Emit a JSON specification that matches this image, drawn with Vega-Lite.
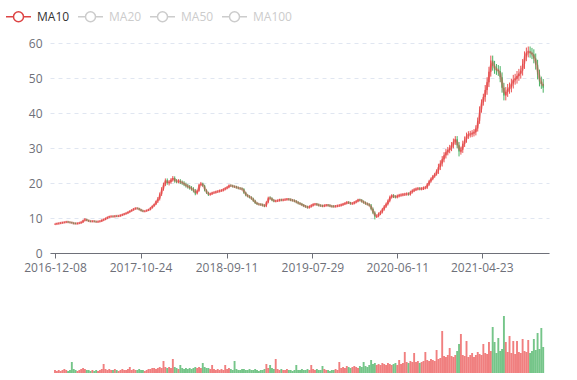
{
"$schema":"https://vega.github.io/schema/vega-lite/v6.json",
"padding":{"left":5,"top":3,"right":5,"bottom":5},
"config":{"font":"Open Sans","view":{"stroke":null}},
"spacing":30,
"resolve":{"scale":{"x":"independent","y":"independent","color":"independent"}},
"data":{"values":[
{"d":"2016-12-08","o":8.2,"c":8.3,"h":8.5,"l":8.0,"v":3},
{"d":"2016-12-15","o":8.3,"c":8.4,"h":8.6,"l":8.1,"v":2},
{"d":"2016-12-22","o":8.4,"c":8.5,"h":8.7,"l":8.2,"v":3},
{"d":"2016-12-29","o":8.5,"c":8.6,"h":8.8,"l":8.3,"v":2},
{"d":"2017-01-05","o":8.6,"c":8.7,"h":8.9,"l":8.4,"v":3},
{"d":"2017-01-12","o":8.7,"c":8.8,"h":9.0,"l":8.5,"v":4},
{"d":"2017-01-19","o":8.8,"c":8.9,"h":9.1,"l":8.6,"v":3},
{"d":"2017-01-26","o":8.9,"c":8.8,"h":9.1,"l":8.6,"v":2},
{"d":"2017-02-02","o":8.8,"c":8.7,"h":9.0,"l":8.5,"v":3},
{"d":"2017-02-09","o":8.7,"c":8.6,"h":8.9,"l":8.4,"v":11},
{"d":"2017-02-16","o":8.6,"c":8.4,"h":8.8,"l":8.2,"v":4},
{"d":"2017-02-23","o":8.5,"c":8.4,"h":8.7,"l":8.2,"v":3},
{"d":"2017-03-02","o":8.4,"c":8.5,"h":8.7,"l":8.2,"v":2},
{"d":"2017-03-09","o":8.5,"c":8.6,"h":8.8,"l":8.3,"v":3},
{"d":"2017-03-16","o":8.6,"c":8.8,"h":9.0,"l":8.4,"v":4},
{"d":"2017-03-23","o":8.8,"c":9.3,"h":9.5,"l":8.6,"v":5},
{"d":"2017-03-30","o":9.3,"c":9.6,"h":10.0,"l":9.1,"v":4},
{"d":"2017-04-06","o":9.6,"c":9.3,"h":9.8,"l":9.1,"v":3},
{"d":"2017-04-13","o":9.3,"c":9.1,"h":9.5,"l":8.9,"v":3},
{"d":"2017-04-20","o":9.1,"c":9.0,"h":9.3,"l":8.8,"v":2},
{"d":"2017-04-27","o":9.0,"c":9.1,"h":9.3,"l":8.8,"v":3},
{"d":"2017-05-04","o":9.1,"c":9.0,"h":9.3,"l":8.8,"v":2},
{"d":"2017-05-11","o":9.0,"c":8.9,"h":9.2,"l":8.7,"v":3},
{"d":"2017-05-18","o":8.9,"c":9.0,"h":9.2,"l":8.7,"v":2},
{"d":"2017-05-25","o":9.0,"c":9.1,"h":9.3,"l":8.8,"v":3},
{"d":"2017-06-01","o":9.1,"c":9.4,"h":9.6,"l":8.9,"v":4},
{"d":"2017-06-08","o":9.4,"c":9.6,"h":9.8,"l":9.2,"v":9},
{"d":"2017-06-15","o":9.6,"c":9.9,"h":10.1,"l":9.4,"v":4},
{"d":"2017-06-22","o":9.9,"c":10.2,"h":10.4,"l":9.7,"v":3},
{"d":"2017-06-29","o":10.2,"c":10.4,"h":10.6,"l":10.0,"v":4},
{"d":"2017-07-06","o":10.4,"c":10.5,"h":10.7,"l":10.2,"v":3},
{"d":"2017-07-13","o":10.5,"c":10.4,"h":10.7,"l":10.2,"v":3},
{"d":"2017-07-20","o":10.4,"c":10.6,"h":10.8,"l":10.2,"v":4},
{"d":"2017-07-27","o":10.6,"c":10.5,"h":10.8,"l":10.3,"v":3},
{"d":"2017-08-03","o":10.5,"c":10.6,"h":10.8,"l":10.3,"v":2},
{"d":"2017-08-10","o":10.6,"c":10.8,"h":11.0,"l":10.4,"v":3},
{"d":"2017-08-17","o":10.8,"c":11.0,"h":11.2,"l":10.6,"v":4},
{"d":"2017-08-24","o":11.0,"c":11.2,"h":11.4,"l":10.8,"v":3},
{"d":"2017-08-31","o":11.2,"c":11.4,"h":11.6,"l":11.0,"v":3},
{"d":"2017-09-07","o":11.4,"c":11.7,"h":11.9,"l":11.2,"v":4},
{"d":"2017-09-14","o":11.7,"c":12.0,"h":12.2,"l":11.5,"v":6},
{"d":"2017-09-21","o":12.0,"c":12.3,"h":12.5,"l":11.8,"v":3},
{"d":"2017-09-28","o":12.3,"c":12.6,"h":12.8,"l":12.1,"v":4},
{"d":"2017-10-05","o":12.6,"c":12.8,"h":13.0,"l":12.4,"v":3},
{"d":"2017-10-12","o":12.8,"c":12.7,"h":13.0,"l":12.5,"v":3},
{"d":"2017-10-19","o":12.7,"c":12.4,"h":12.9,"l":12.2,"v":4},
{"d":"2017-10-26","o":12.4,"c":12.1,"h":12.6,"l":11.9,"v":3},
{"d":"2017-11-02","o":12.1,"c":11.9,"h":12.3,"l":11.7,"v":3},
{"d":"2017-11-09","o":11.9,"c":12.0,"h":12.2,"l":11.7,"v":2},
{"d":"2017-11-16","o":12.0,"c":12.2,"h":12.4,"l":11.8,"v":3},
{"d":"2017-11-23","o":12.2,"c":12.4,"h":12.6,"l":12.0,"v":4},
{"d":"2017-11-30","o":12.4,"c":12.9,"h":13.1,"l":12.2,"v":4},
{"d":"2017-12-07","o":12.9,"c":13.4,"h":13.6,"l":12.7,"v":5},
{"d":"2017-12-14","o":13.4,"c":13.9,"h":14.1,"l":13.2,"v":5},
{"d":"2017-12-21","o":13.9,"c":14.8,"h":15.0,"l":13.7,"v":4},
{"d":"2017-12-28","o":14.8,"c":15.5,"h":16.0,"l":14.3,"v":5},
{"d":"2018-01-04","o":15.5,"c":16.8,"h":17.3,"l":15.0,"v":6},
{"d":"2018-01-11","o":16.8,"c":18.3,"h":18.8,"l":16.3,"v":5},
{"d":"2018-01-18","o":18.3,"c":19.6,"h":20.1,"l":17.8,"v":12},
{"d":"2018-01-25","o":19.6,"c":20.8,"h":21.3,"l":19.1,"v":6},
{"d":"2018-02-01","o":20.8,"c":20.0,"h":21.3,"l":19.5,"v":5},
{"d":"2018-02-08","o":20.0,"c":20.3,"h":20.8,"l":19.3,"v":6},
{"d":"2018-02-15","o":20.3,"c":20.9,"h":21.4,"l":19.8,"v":5},
{"d":"2018-02-22","o":20.9,"c":21.4,"h":22.0,"l":20.4,"v":14},
{"d":"2018-03-01","o":21.4,"c":20.6,"h":21.9,"l":20.1,"v":6},
{"d":"2018-03-08","o":20.6,"c":20.4,"h":21.1,"l":19.9,"v":5},
{"d":"2018-03-15","o":20.4,"c":20.6,"h":21.1,"l":19.9,"v":4},
{"d":"2018-03-22","o":20.6,"c":20.2,"h":21.1,"l":19.7,"v":8},
{"d":"2018-03-29","o":20.2,"c":20.0,"h":20.7,"l":19.5,"v":5},
{"d":"2018-04-05","o":20.0,"c":19.6,"h":20.5,"l":19.1,"v":4},
{"d":"2018-04-12","o":19.6,"c":19.2,"h":20.1,"l":18.7,"v":5},
{"d":"2018-04-19","o":19.2,"c":18.9,"h":19.7,"l":18.4,"v":4},
{"d":"2018-04-26","o":18.9,"c":18.6,"h":19.4,"l":18.1,"v":5},
{"d":"2018-05-03","o":18.6,"c":18.3,"h":19.1,"l":17.8,"v":4},
{"d":"2018-05-10","o":18.3,"c":17.8,"h":18.8,"l":17.3,"v":5},
{"d":"2018-05-17","o":17.8,"c":17.0,"h":18.3,"l":16.5,"v":6},
{"d":"2018-05-24","o":17.0,"c":17.8,"h":18.1,"l":16.7,"v":5},
{"d":"2018-05-31","o":17.8,"c":19.5,"h":19.8,"l":17.5,"v":6},
{"d":"2018-06-07","o":19.5,"c":19.8,"h":20.3,"l":19.2,"v":5},
{"d":"2018-06-14","o":19.8,"c":19.2,"h":20.1,"l":18.9,"v":10},
{"d":"2018-06-21","o":19.2,"c":17.9,"h":19.5,"l":17.6,"v":6},
{"d":"2018-06-28","o":17.9,"c":17.2,"h":18.2,"l":16.9,"v":5},
{"d":"2018-07-05","o":17.2,"c":16.7,"h":17.5,"l":16.3,"v":5},
{"d":"2018-07-12","o":16.7,"c":16.9,"h":17.2,"l":16.4,"v":4},
{"d":"2018-07-19","o":16.9,"c":17.2,"h":17.5,"l":16.6,"v":8},
{"d":"2018-07-26","o":17.2,"c":17.3,"h":17.6,"l":16.9,"v":4},
{"d":"2018-08-02","o":17.3,"c":17.5,"h":17.8,"l":17.0,"v":3},
{"d":"2018-08-09","o":17.5,"c":17.6,"h":17.9,"l":17.2,"v":4},
{"d":"2018-08-16","o":17.6,"c":17.8,"h":18.1,"l":17.3,"v":3},
{"d":"2018-08-23","o":17.8,"c":17.9,"h":18.2,"l":17.5,"v":4},
{"d":"2018-08-30","o":17.9,"c":18.2,"h":18.5,"l":17.6,"v":3},
{"d":"2018-09-06","o":18.2,"c":18.5,"h":18.8,"l":17.9,"v":8},
{"d":"2018-09-13","o":18.5,"c":18.8,"h":19.1,"l":18.2,"v":4},
{"d":"2018-09-20","o":18.8,"c":19.3,"h":19.6,"l":18.5,"v":5},
{"d":"2018-09-27","o":19.3,"c":19.2,"h":19.6,"l":18.9,"v":4},
{"d":"2018-10-04","o":19.2,"c":19.0,"h":19.5,"l":18.7,"v":3},
{"d":"2018-10-11","o":19.0,"c":18.9,"h":19.3,"l":18.6,"v":12},
{"d":"2018-10-18","o":18.9,"c":18.7,"h":19.2,"l":18.4,"v":4},
{"d":"2018-10-25","o":18.7,"c":18.5,"h":19.0,"l":18.2,"v":3},
{"d":"2018-11-01","o":18.5,"c":18.4,"h":18.8,"l":18.1,"v":3},
{"d":"2018-11-08","o":18.4,"c":18.2,"h":18.7,"l":17.9,"v":4},
{"d":"2018-11-15","o":18.2,"c":17.2,"h":18.5,"l":16.9,"v":4},
{"d":"2018-11-22","o":17.2,"c":16.5,"h":17.5,"l":16.2,"v":3},
{"d":"2018-11-29","o":16.5,"c":16.2,"h":16.8,"l":15.9,"v":3},
{"d":"2018-12-06","o":16.2,"c":15.9,"h":16.5,"l":15.6,"v":4},
{"d":"2018-12-13","o":15.9,"c":15.5,"h":16.2,"l":15.2,"v":3},
{"d":"2018-12-20","o":15.5,"c":14.9,"h":15.8,"l":14.6,"v":3},
{"d":"2018-12-27","o":14.9,"c":14.3,"h":15.2,"l":14.0,"v":4},
{"d":"2019-01-03","o":14.3,"c":14.0,"h":14.6,"l":13.7,"v":3},
{"d":"2019-01-10","o":14.0,"c":13.9,"h":14.3,"l":13.6,"v":2},
{"d":"2019-01-17","o":13.9,"c":13.8,"h":14.2,"l":13.5,"v":3},
{"d":"2019-01-24","o":13.8,"c":13.6,"h":14.1,"l":13.3,"v":3},
{"d":"2019-01-31","o":13.6,"c":13.4,"h":13.9,"l":13.1,"v":4},
{"d":"2019-02-07","o":13.4,"c":14.5,"h":14.8,"l":13.1,"v":9},
{"d":"2019-02-14","o":14.5,"c":15.8,"h":16.1,"l":14.2,"v":5},
{"d":"2019-02-21","o":15.8,"c":15.6,"h":16.2,"l":15.3,"v":8},
{"d":"2019-02-28","o":15.6,"c":15.1,"h":15.9,"l":14.8,"v":5},
{"d":"2019-03-07","o":15.1,"c":14.8,"h":15.4,"l":14.5,"v":4},
{"d":"2019-03-14","o":14.8,"c":14.9,"h":15.2,"l":14.5,"v":14},
{"d":"2019-03-21","o":14.9,"c":15.0,"h":15.3,"l":14.6,"v":4},
{"d":"2019-03-28","o":15.0,"c":15.2,"h":15.5,"l":14.7,"v":3},
{"d":"2019-04-04","o":15.2,"c":15.1,"h":15.5,"l":14.8,"v":4},
{"d":"2019-04-11","o":15.1,"c":15.2,"h":15.5,"l":14.8,"v":3},
{"d":"2019-04-18","o":15.2,"c":15.3,"h":15.6,"l":14.9,"v":3},
{"d":"2019-04-25","o":15.3,"c":15.4,"h":15.7,"l":15.0,"v":4},
{"d":"2019-05-02","o":15.4,"c":15.3,"h":15.7,"l":15.0,"v":3},
{"d":"2019-05-09","o":15.3,"c":15.1,"h":15.6,"l":14.8,"v":3},
{"d":"2019-05-16","o":15.1,"c":15.0,"h":15.4,"l":14.7,"v":2},
{"d":"2019-05-23","o":15.0,"c":14.8,"h":15.3,"l":14.5,"v":3},
{"d":"2019-05-30","o":14.8,"c":14.5,"h":15.1,"l":14.2,"v":8},
{"d":"2019-06-06","o":14.5,"c":14.2,"h":14.8,"l":13.9,"v":3},
{"d":"2019-06-13","o":14.2,"c":14.0,"h":14.5,"l":13.7,"v":3},
{"d":"2019-06-20","o":14.0,"c":13.7,"h":14.3,"l":13.4,"v":4},
{"d":"2019-06-27","o":13.7,"c":13.4,"h":14.0,"l":13.1,"v":3},
{"d":"2019-07-04","o":13.4,"c":13.2,"h":13.7,"l":12.9,"v":3},
{"d":"2019-07-11","o":13.2,"c":13.0,"h":13.5,"l":12.7,"v":4},
{"d":"2019-07-18","o":13.0,"c":13.3,"h":13.6,"l":12.7,"v":3},
{"d":"2019-07-25","o":13.3,"c":13.6,"h":13.9,"l":13.0,"v":8},
{"d":"2019-08-01","o":13.6,"c":13.9,"h":14.2,"l":13.3,"v":4},
{"d":"2019-08-08","o":13.9,"c":14.0,"h":14.3,"l":13.6,"v":3},
{"d":"2019-08-15","o":14.0,"c":13.8,"h":14.3,"l":13.5,"v":4},
{"d":"2019-08-22","o":13.8,"c":13.6,"h":14.1,"l":13.3,"v":3},
{"d":"2019-08-29","o":13.6,"c":13.5,"h":13.9,"l":13.2,"v":3},
{"d":"2019-09-05","o":13.5,"c":13.4,"h":13.8,"l":13.1,"v":7},
{"d":"2019-09-12","o":13.4,"c":13.6,"h":13.9,"l":13.1,"v":4},
{"d":"2019-09-19","o":13.6,"c":13.7,"h":14.0,"l":13.3,"v":3},
{"d":"2019-09-26","o":13.7,"c":13.6,"h":14.0,"l":13.3,"v":3},
{"d":"2019-10-03","o":13.6,"c":13.4,"h":13.9,"l":13.1,"v":2},
{"d":"2019-10-10","o":13.4,"c":13.3,"h":13.7,"l":13.0,"v":3},
{"d":"2019-10-17","o":13.4,"c":13.3,"h":13.7,"l":13.0,"v":3},
{"d":"2019-10-24","o":13.3,"c":13.4,"h":13.7,"l":13.0,"v":4},
{"d":"2019-10-31","o":13.4,"c":13.5,"h":13.8,"l":13.1,"v":3},
{"d":"2019-11-07","o":13.5,"c":13.6,"h":13.9,"l":13.2,"v":11},
{"d":"2019-11-14","o":13.6,"c":13.8,"h":14.1,"l":13.3,"v":5},
{"d":"2019-11-21","o":13.8,"c":14.0,"h":14.3,"l":13.5,"v":6},
{"d":"2019-11-28","o":14.0,"c":14.2,"h":14.5,"l":13.7,"v":5},
{"d":"2019-12-05","o":14.2,"c":14.5,"h":14.8,"l":13.9,"v":7},
{"d":"2019-12-12","o":14.5,"c":14.3,"h":14.8,"l":14.0,"v":6},
{"d":"2019-12-19","o":14.3,"c":14.1,"h":14.6,"l":13.8,"v":5},
{"d":"2019-12-26","o":14.1,"c":14.2,"h":14.5,"l":13.8,"v":6},
{"d":"2020-01-02","o":14.2,"c":14.5,"h":14.8,"l":13.9,"v":7},
{"d":"2020-01-09","o":14.5,"c":14.8,"h":15.1,"l":14.2,"v":6},
{"d":"2020-01-16","o":14.8,"c":15.2,"h":15.5,"l":14.5,"v":5},
{"d":"2020-01-23","o":15.2,"c":15.1,"h":15.5,"l":14.8,"v":7},
{"d":"2020-01-30","o":15.1,"c":14.7,"h":15.4,"l":14.4,"v":6},
{"d":"2020-02-06","o":14.7,"c":14.4,"h":15.0,"l":14.1,"v":11},
{"d":"2020-02-13","o":14.4,"c":14.1,"h":14.7,"l":13.8,"v":7},
{"d":"2020-02-20","o":14.1,"c":13.9,"h":14.4,"l":13.6,"v":6},
{"d":"2020-02-27","o":13.9,"c":13.6,"h":14.2,"l":13.3,"v":8},
{"d":"2020-03-05","o":13.6,"c":12.6,"h":14.0,"l":12.2,"v":13},
{"d":"2020-03-12","o":12.6,"c":11.5,"h":13.0,"l":11.1,"v":9},
{"d":"2020-03-19","o":11.5,"c":10.4,"h":11.9,"l":9.6,"v":10},
{"d":"2020-03-26","o":10.4,"c":10.6,"h":11.0,"l":10.0,"v":8},
{"d":"2020-04-02","o":10.6,"c":11.2,"h":11.6,"l":10.2,"v":9},
{"d":"2020-04-09","o":11.2,"c":11.7,"h":12.1,"l":10.8,"v":8},
{"d":"2020-04-16","o":11.7,"c":12.5,"h":12.9,"l":11.3,"v":10},
{"d":"2020-04-23","o":12.5,"c":13.3,"h":13.7,"l":12.1,"v":9},
{"d":"2020-04-30","o":13.3,"c":14.0,"h":14.4,"l":12.9,"v":8},
{"d":"2020-05-07","o":14.0,"c":14.9,"h":15.3,"l":13.6,"v":10},
{"d":"2020-05-14","o":14.9,"c":16.0,"h":16.4,"l":14.5,"v":9},
{"d":"2020-05-21","o":16.0,"c":16.4,"h":16.8,"l":15.6,"v":8},
{"d":"2020-05-28","o":16.4,"c":16.1,"h":16.8,"l":15.7,"v":9},
{"d":"2020-06-04","o":16.1,"c":16.0,"h":16.5,"l":15.6,"v":10},
{"d":"2020-06-11","o":16.0,"c":16.3,"h":16.7,"l":15.6,"v":8},
{"d":"2020-06-18","o":16.3,"c":16.5,"h":16.9,"l":15.9,"v":13},
{"d":"2020-06-25","o":16.5,"c":16.6,"h":17.0,"l":16.1,"v":9},
{"d":"2020-07-02","o":16.6,"c":16.7,"h":17.1,"l":16.2,"v":10},
{"d":"2020-07-09","o":16.7,"c":16.8,"h":17.2,"l":16.3,"v":21},
{"d":"2020-07-16","o":16.8,"c":16.9,"h":17.3,"l":16.4,"v":11},
{"d":"2020-07-23","o":16.9,"c":16.8,"h":17.3,"l":16.4,"v":10},
{"d":"2020-07-30","o":16.8,"c":17.4,"h":17.8,"l":16.4,"v":12},
{"d":"2020-08-06","o":17.4,"c":17.8,"h":18.2,"l":17.0,"v":11},
{"d":"2020-08-13","o":17.8,"c":18.1,"h":18.5,"l":17.4,"v":20},
{"d":"2020-08-20","o":18.1,"c":18.3,"h":18.7,"l":17.7,"v":11},
{"d":"2020-08-27","o":18.3,"c":18.4,"h":18.8,"l":17.9,"v":12},
{"d":"2020-09-03","o":18.4,"c":18.3,"h":18.8,"l":17.9,"v":10},
{"d":"2020-09-10","o":18.3,"c":18.4,"h":18.8,"l":17.9,"v":11},
{"d":"2020-09-17","o":18.4,"c":18.6,"h":19.0,"l":18.0,"v":12},
{"d":"2020-09-24","o":18.6,"c":18.7,"h":19.1,"l":18.2,"v":21},
{"d":"2020-10-01","o":18.7,"c":19.6,"h":20.0,"l":18.3,"v":13},
{"d":"2020-10-08","o":19.6,"c":20.5,"h":20.9,"l":19.2,"v":12},
{"d":"2020-10-15","o":20.5,"c":21.2,"h":21.6,"l":20.1,"v":14},
{"d":"2020-10-22","o":21.2,"c":21.9,"h":22.3,"l":20.8,"v":13},
{"d":"2020-10-29","o":21.9,"c":22.5,"h":22.9,"l":21.5,"v":12},
{"d":"2020-11-05","o":22.5,"c":23.5,"h":23.9,"l":22.1,"v":23},
{"d":"2020-11-12","o":23.5,"c":24.6,"h":25.5,"l":22.6,"v":14},
{"d":"2020-11-19","o":24.6,"c":25.6,"h":26.5,"l":23.7,"v":15},
{"d":"2020-11-26","o":25.6,"c":26.8,"h":27.7,"l":24.7,"v":42},
{"d":"2020-12-03","o":26.8,"c":27.9,"h":28.8,"l":25.9,"v":17},
{"d":"2020-12-10","o":27.9,"c":28.8,"h":29.7,"l":27.0,"v":16},
{"d":"2020-12-17","o":28.8,"c":29.4,"h":30.3,"l":27.9,"v":18},
{"d":"2020-12-24","o":29.4,"c":30.0,"h":30.9,"l":28.5,"v":25},
{"d":"2020-12-31","o":30.0,"c":30.8,"h":31.7,"l":29.1,"v":17},
{"d":"2021-01-07","o":30.8,"c":31.8,"h":32.7,"l":29.9,"v":16},
{"d":"2021-01-14","o":31.8,"c":32.5,"h":33.4,"l":30.9,"v":18},
{"d":"2021-01-21","o":32.5,"c":30.8,"h":33.4,"l":29.9,"v":22},
{"d":"2021-01-28","o":30.8,"c":29.0,"h":31.7,"l":27.6,"v":29},
{"d":"2021-02-04","o":29.0,"c":29.5,"h":30.4,"l":28.1,"v":39},
{"d":"2021-02-11","o":29.5,"c":31.2,"h":32.1,"l":28.6,"v":18},
{"d":"2021-02-18","o":31.2,"c":32.4,"h":33.3,"l":30.3,"v":17},
{"d":"2021-02-25","o":32.4,"c":33.5,"h":34.4,"l":31.5,"v":32},
{"d":"2021-03-04","o":33.5,"c":33.9,"h":34.8,"l":32.6,"v":16},
{"d":"2021-03-11","o":33.9,"c":34.0,"h":34.9,"l":33.0,"v":18},
{"d":"2021-03-18","o":34.0,"c":34.2,"h":35.1,"l":33.1,"v":20},
{"d":"2021-03-25","o":34.2,"c":34.5,"h":35.4,"l":33.3,"v":16},
{"d":"2021-04-01","o":34.5,"c":35.6,"h":36.5,"l":33.6,"v":18},
{"d":"2021-04-08","o":35.6,"c":37.8,"h":38.7,"l":34.7,"v":21},
{"d":"2021-04-15","o":37.8,"c":41.0,"h":41.9,"l":36.9,"v":19},
{"d":"2021-04-22","o":41.0,"c":43.0,"h":43.9,"l":40.1,"v":18},
{"d":"2021-04-29","o":43.0,"c":44.6,"h":45.5,"l":42.1,"v":29},
{"d":"2021-05-06","o":44.6,"c":46.6,"h":48.0,"l":43.2,"v":20},
{"d":"2021-05-13","o":46.6,"c":48.8,"h":50.2,"l":45.2,"v":19},
{"d":"2021-05-20","o":48.8,"c":51.8,"h":53.2,"l":47.4,"v":31},
{"d":"2021-05-27","o":51.8,"c":55.0,"h":56.4,"l":50.4,"v":22},
{"d":"2021-06-03","o":55.0,"c":53.5,"h":56.4,"l":52.1,"v":46},
{"d":"2021-06-10","o":53.5,"c":52.6,"h":54.9,"l":51.2,"v":31},
{"d":"2021-06-17","o":52.6,"c":52.3,"h":54.0,"l":50.9,"v":20},
{"d":"2021-06-24","o":52.3,"c":52.0,"h":53.7,"l":50.6,"v":35},
{"d":"2021-07-01","o":52.0,"c":50.2,"h":53.4,"l":48.8,"v":22},
{"d":"2021-07-08","o":50.2,"c":47.2,"h":51.6,"l":45.8,"v":24},
{"d":"2021-07-15","o":47.2,"c":45.0,"h":48.6,"l":43.6,"v":57},
{"d":"2021-07-22","o":45.0,"c":46.0,"h":47.4,"l":43.6,"v":31},
{"d":"2021-07-29","o":46.0,"c":46.9,"h":48.3,"l":44.6,"v":21},
{"d":"2021-08-05","o":46.9,"c":47.3,"h":48.7,"l":45.5,"v":37},
{"d":"2021-08-12","o":47.3,"c":48.4,"h":49.8,"l":45.9,"v":20},
{"d":"2021-08-19","o":48.4,"c":49.5,"h":50.9,"l":47.0,"v":32},
{"d":"2021-08-26","o":49.5,"c":49.8,"h":51.2,"l":48.1,"v":19},
{"d":"2021-09-02","o":49.8,"c":50.6,"h":52.0,"l":48.4,"v":32},
{"d":"2021-09-09","o":50.6,"c":51.2,"h":52.6,"l":49.2,"v":21},
{"d":"2021-09-16","o":51.2,"c":52.1,"h":53.5,"l":49.8,"v":20},
{"d":"2021-09-23","o":52.1,"c":54.0,"h":55.4,"l":50.7,"v":34},
{"d":"2021-09-30","o":54.0,"c":56.2,"h":57.6,"l":52.6,"v":22},
{"d":"2021-10-07","o":56.2,"c":57.3,"h":58.7,"l":54.8,"v":21},
{"d":"2021-10-14","o":57.3,"c":57.6,"h":59.0,"l":55.9,"v":33},
{"d":"2021-10-21","o":57.6,"c":57.2,"h":59.0,"l":55.8,"v":20},
{"d":"2021-10-28","o":57.2,"c":56.8,"h":58.6,"l":55.4,"v":22},
{"d":"2021-11-04","o":56.8,"c":55.6,"h":58.2,"l":54.2,"v":34},
{"d":"2021-11-11","o":55.6,"c":53.8,"h":57.0,"l":52.4,"v":23},
{"d":"2021-11-18","o":53.8,"c":51.0,"h":55.2,"l":49.6,"v":40},
{"d":"2021-11-25","o":51.0,"c":49.0,"h":52.4,"l":47.6,"v":24},
{"d":"2021-12-02","o":49.0,"c":48.3,"h":50.4,"l":46.9,"v":45},
{"d":"2021-12-09","o":48.3,"c":47.2,"h":49.7,"l":45.8,"v":26}
]},
"vconcat":[
{"width":499,"height":210,
 "encoding":{"x":{"field":"d","type":"temporal",
   "scale":{"type":"utc","domain":[{"year":2016,"month":12,"date":8,"utc":true},{"year":2021,"month":12,"date":12,"utc":true}]},
   "axis":{"values":[{"year":2016,"month":12,"date":8,"utc":true},{"year":2017,"month":10,"date":24,"utc":true},{"year":2018,"month":9,"date":11,"utc":true},{"year":2019,"month":7,"date":29,"utc":true},{"year":2020,"month":6,"date":11,"utc":true},{"year":2021,"month":4,"date":23,"utc":true}],
     "format":"%Y-%m-%d","title":null,"grid":false,"domainColor":"#6E7079","tickColor":"#6E7079","tickSize":5,"labelColor":"#6E7079","labelFontSize":12,"labelPadding":4,"labelOverlap":false,"labelFlush":false}}},
 "layer":[
  {"mark":{"type":"rule","strokeWidth":1},
   "encoding":{"y":{"field":"l","type":"quantitative","scale":{"domain":[0,60]},
     "axis":{"values":[0,10,20,30,40,50,60],"tickCount":7,"title":null,"domain":false,"ticks":false,"labelColor":"#6E7079","labelFontSize":12,"labelPadding":8,"labelOverlap":false,"labelFlush":false,"grid":true,"gridColor":"#E0E6F1","gridDash":[4,4],"minExtent":45,"maxExtent":45}},
    "y2":{"field":"h"},
    "color":{"condition":{"test":"datum.c >= datum.o","value":"#eb5454"},"value":"#47b262"}}},
  {"mark":{"type":"bar","width":1.3},
   "encoding":{"y":{"field":"o","type":"quantitative","axis":{"values":[0,10,20,30,40,50,60],"tickCount":7,"title":null,"domain":false,"ticks":false,"labelColor":"#6E7079","labelFontSize":12,"labelPadding":8,"labelOverlap":false,"labelFlush":false,"grid":true,"gridColor":"#E0E6F1","gridDash":[4,4],"minExtent":45,"maxExtent":45}},"y2":{"field":"c"},
    "color":{"condition":{"test":"datum.c >= datum.o","value":"#eb5454"},"value":"#47b262"}}},
  {"transform":[{"window":[{"op":"mean","field":"c","as":"ma"}],"frame":[-1,0],"sort":[{"field":"d"}]}],
   "mark":{"type":"line","strokeWidth":2.5,"opacity":0.45},
   "encoding":{"y":{"field":"ma","type":"quantitative","axis":{"values":[0,10,20,30,40,50,60],"tickCount":7,"title":null,"domain":false,"ticks":false,"labelColor":"#6E7079","labelFontSize":12,"labelPadding":8,"labelOverlap":false,"labelFlush":false,"grid":true,"gridColor":"#E0E6F1","gridDash":[4,4],"minExtent":45,"maxExtent":45}},
    "color":{"datum":"MA10","type":"nominal",
     "scale":{"domain":["MA10","MA20","MA50","MA100"],"range":["#dd4444","#cccccc","#cccccc","#cccccc"]},
     "legend":{"orient":"none","direction":"horizontal","legendX":-45,"legendY":-40,"title":null,"padding":0,
       "symbolType":"M-1,0L-0.4,0M0.4,0L1,0M-0.4,0A0.4,0.4,0,1,1,0.4,0A0.4,0.4,0,1,1,-0.4,0",
       "symbolSize":625,"symbolStrokeWidth":1.5,"symbolOpacity":1,"symbolFillColor":"#ffffff",
       "labelFontSize":12,"labelColor":"#333333","labelOffset":5,"columnPadding":5,
       "encode":{"labels":{"update":{"fill":{"signal":"datum.label === 'MA10' ? '#333333' : '#cccccc'"}}},
                 "symbols":{"update":{"fill":{"value":"#ffffff"},"opacity":{"value":1}}}}}}}}
 ]},
{"width":499,"height":70,
 "mark":{"type":"bar","width":1.9,"opacity":0.75},
 "encoding":{"x":{"field":"d","type":"temporal","scale":{"type":"utc","domain":[{"year":2016,"month":12,"date":8,"utc":true},{"year":2021,"month":12,"date":12,"utc":true}]},"axis":null},
  "y":{"field":"v","type":"quantitative","scale":{"domain":[0,70]},"axis":null},
  "color":{"condition":{"test":"datum.c >= datum.o","value":"#eb5454"},"value":"#47b262"}}}
]
}
